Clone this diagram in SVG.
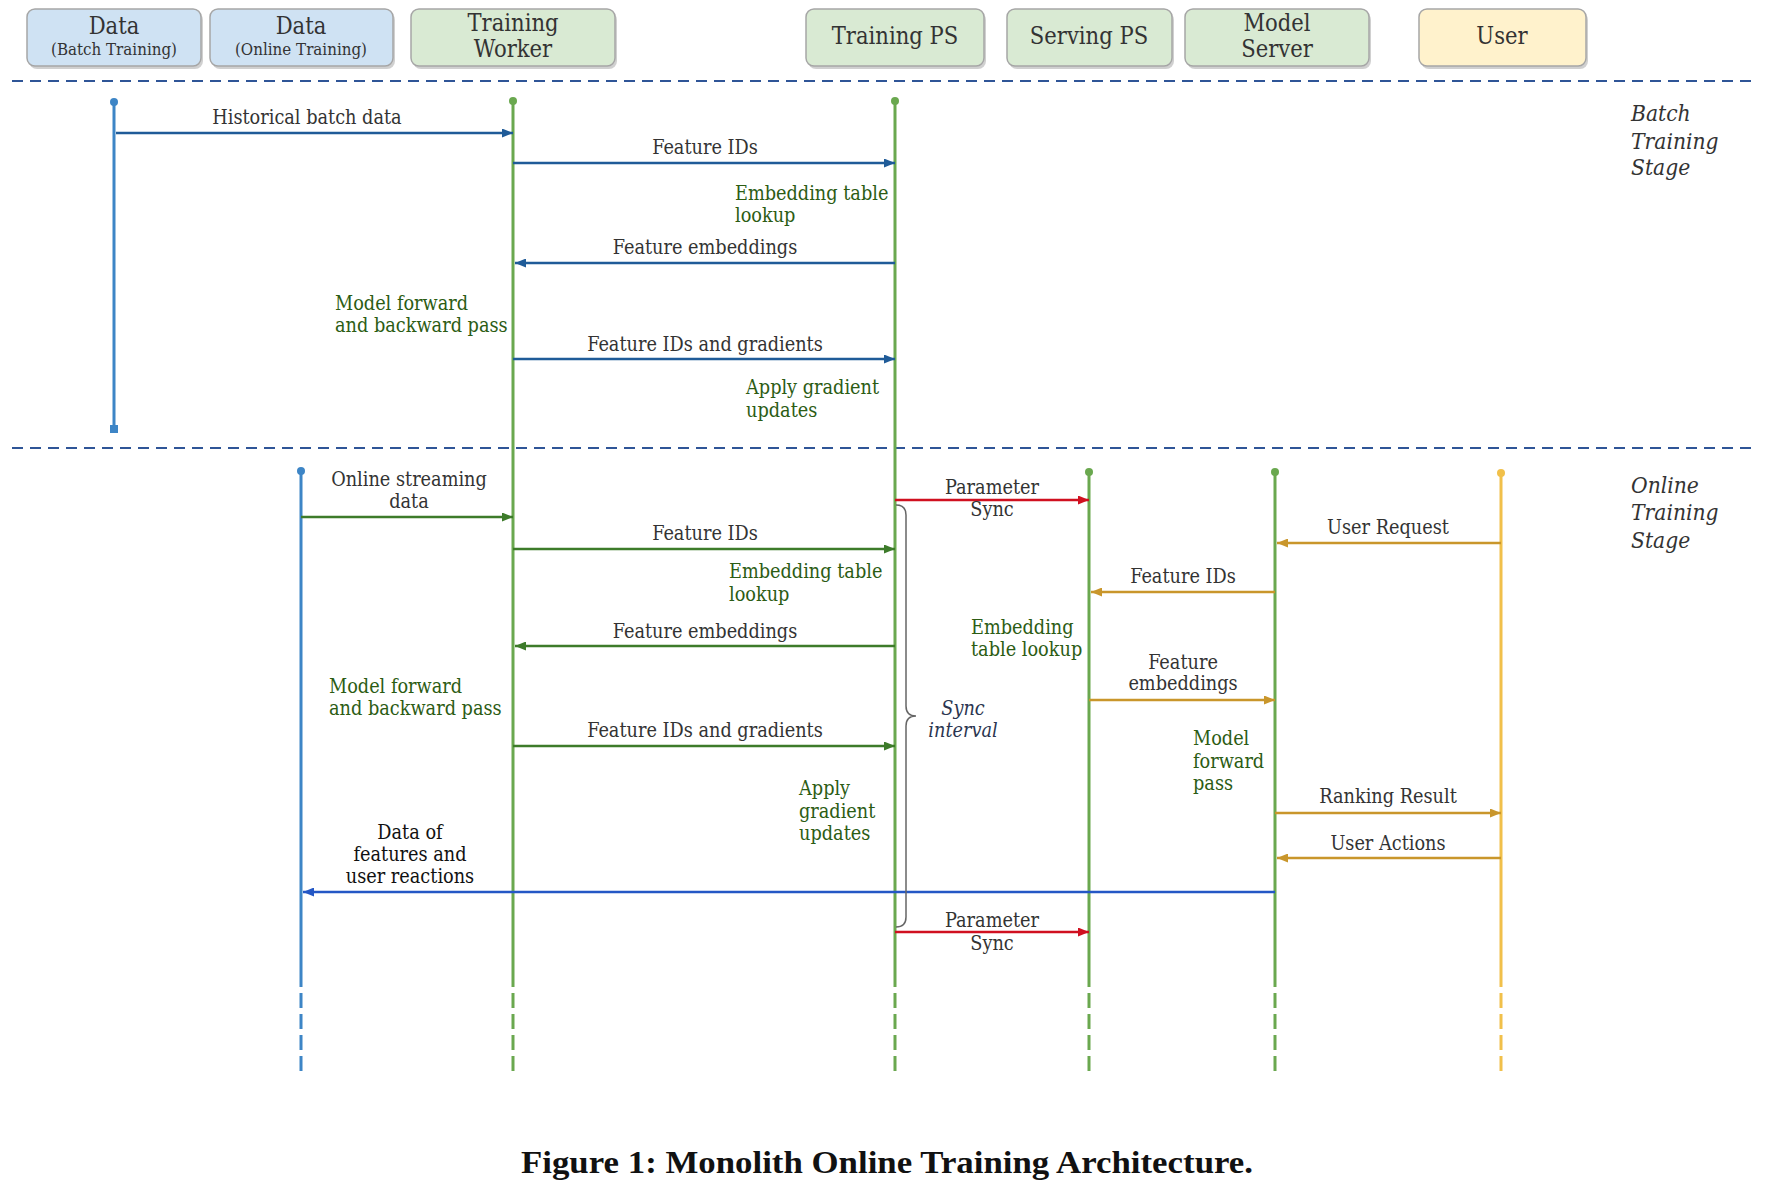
<svg xmlns="http://www.w3.org/2000/svg" width="1772" height="1188" viewBox="0 0 1772 1188">
<style>
.bg{fill:#ffffff}
.box{stroke:#a6a6a6;stroke-width:1.5}
.shadow{fill:#b0b0b0;opacity:0.6}
.bBlue{fill:#cfe2f3}
.bGreen{fill:#d9ead3}
.bYellow{fill:#fff2cc}
.ht{font-family:"DejaVu Serif Condensed","DejaVu Serif",serif;font-stretch:condensed;font-size:23.5px;fill:#333;text-anchor:middle}
.hs{font-family:"DejaVu Serif Condensed","DejaVu Serif",serif;font-stretch:condensed;font-size:16.8px;fill:#333;text-anchor:middle}
.t{font-family:"DejaVu Serif Condensed","DejaVu Serif",serif;font-stretch:condensed;font-size:19.7px;fill:#333}
.m{text-anchor:middle}
.g{fill:#2c5c14}
.k{fill:#111}
.it{font-style:italic}
.stage{font-family:"DejaVu Serif Condensed","DejaVu Serif",serif;font-stretch:condensed;font-style:italic;font-size:22.6px;fill:#333}
.sep{stroke:#2f5597;stroke-width:2;stroke-dasharray:11 7;fill:none}
.life{stroke-width:3;fill:none}
.lb{stroke:#3d85c6}
.lg{stroke:#6aa84f}
.ly{stroke:#f1c04a}
.dash{stroke-dasharray:15 6}
.a{stroke-width:2.5;fill:none}
.aBlue{stroke:#1f5b98;marker-end:url(#mBlue)}
.aGreen{stroke:#3d7b2a;marker-end:url(#mGreen)}
.aGold{stroke:#c9962b;marker-end:url(#mGold)}
.aRed{stroke:#d01020;marker-end:url(#mRed)}
.aRoyal{stroke:#2457c5;marker-end:url(#mRoyal)}
.cap{font-family:"Liberation Serif",serif;font-weight:bold;font-size:31px;fill:#111;text-anchor:middle}
</style>
<defs>
<marker id="mBlue" markerUnits="userSpaceOnUse" markerWidth="11" markerHeight="9" refX="11" refY="4.5" orient="auto"><path d="M0,0 L11,4.5 L0,9 z" fill="#1f5b98"/></marker>
<marker id="mGreen" markerUnits="userSpaceOnUse" markerWidth="11" markerHeight="9" refX="11" refY="4.5" orient="auto"><path d="M0,0 L11,4.5 L0,9 z" fill="#3d7b2a"/></marker>
<marker id="mGold" markerUnits="userSpaceOnUse" markerWidth="11" markerHeight="9" refX="11" refY="4.5" orient="auto"><path d="M0,0 L11,4.5 L0,9 z" fill="#c9962b"/></marker>
<marker id="mRed" markerUnits="userSpaceOnUse" markerWidth="11" markerHeight="9" refX="11" refY="4.5" orient="auto"><path d="M0,0 L11,4.5 L0,9 z" fill="#d01020"/></marker>
<marker id="mRoyal" markerUnits="userSpaceOnUse" markerWidth="11" markerHeight="9" refX="11" refY="4.5" orient="auto"><path d="M0,0 L11,4.5 L0,9 z" fill="#2457c5"/></marker>
</defs>
<rect class="bg" x="0" y="0" width="1772" height="1188"/>

<!-- headers -->
<g id="data-batch">
<rect class="shadow" x="29" y="12" width="174" height="57" rx="8"/>
<rect class="box bBlue" x="27" y="9" width="174" height="57" rx="8"/>
<text class="ht" x="114" y="34">Data</text>
<text class="hs" x="114" y="55">(Batch Training)</text>
</g>
<g id="data-online">
<rect class="shadow" x="212" y="12" width="183" height="57" rx="8"/>
<rect class="box bBlue" x="210" y="9" width="183" height="57" rx="8"/>
<text class="ht" x="301" y="34">Data</text>
<text class="hs" x="301" y="55">(Online Training)</text>
</g>
<g id="training-worker">
<rect class="shadow" x="413" y="12" width="204" height="57" rx="8"/>
<rect class="box bGreen" x="411" y="9" width="204" height="57" rx="8"/>
<text class="ht" x="513" y="31">Training</text>
<text class="ht" x="513" y="57">Worker</text>
</g>
<g id="training-ps">
<rect class="shadow" x="808" y="12" width="178" height="57" rx="8"/>
<rect class="box bGreen" x="806" y="9" width="178" height="57" rx="8"/>
<text class="ht" x="895" y="44">Training PS</text>
</g>
<g id="serving-ps">
<rect class="shadow" x="1009" y="12" width="165" height="57" rx="8"/>
<rect class="box bGreen" x="1007" y="9" width="165" height="57" rx="8"/>
<text class="ht" x="1089" y="44">Serving PS</text>
</g>
<g id="model-server">
<rect class="shadow" x="1187" y="12" width="184" height="57" rx="8"/>
<rect class="box bGreen" x="1185" y="9" width="184" height="57" rx="8"/>
<text class="ht" x="1277" y="31">Model</text>
<text class="ht" x="1277" y="57">Server</text>
</g>
<g id="user">
<rect class="shadow" x="1421" y="12" width="167" height="57" rx="8"/>
<rect class="box bYellow" x="1419" y="9" width="167" height="57" rx="8"/>
<text class="ht" x="1502" y="44">User</text>
</g>

<!-- separators -->
<line class="sep" x1="12" y1="81" x2="1756" y2="81"/>
<line class="sep" x1="12" y1="448" x2="1756" y2="448"/>

<!-- stage labels -->
<text class="stage" x="1631" y="121">Batch</text>
<text class="stage" x="1631" y="149">Training</text>
<text class="stage" x="1631" y="175">Stage</text>
<text class="stage" x="1631" y="493">Online</text>
<text class="stage" x="1631" y="520">Training</text>
<text class="stage" x="1631" y="548">Stage</text>

<!-- lifelines -->
<g id="lifelines">
<line class="life lb" x1="114" y1="102" x2="114" y2="429"/>
<circle cx="114" cy="102" r="4" fill="#3d85c6"/>
<rect x="110" y="425" width="8" height="8" fill="#3d85c6"/>

<line class="life lb" x1="301" y1="471" x2="301" y2="987"/>
<line class="life lb dash" x1="301" y1="993" x2="301" y2="1071"/>
<circle cx="301" cy="471" r="4" fill="#3d85c6"/>

<line class="life lg" x1="513" y1="101" x2="513" y2="987"/>
<line class="life lg dash" x1="513" y1="993" x2="513" y2="1071"/>
<circle cx="513" cy="101" r="4" fill="#6aa84f"/>

<line class="life lg" x1="895" y1="101" x2="895" y2="987"/>
<line class="life lg dash" x1="895" y1="993" x2="895" y2="1071"/>
<circle cx="895" cy="101" r="4" fill="#6aa84f"/>

<line class="life lg" x1="1089" y1="472" x2="1089" y2="987"/>
<line class="life lg dash" x1="1089" y1="993" x2="1089" y2="1071"/>
<circle cx="1089" cy="472" r="4" fill="#6aa84f"/>

<line class="life lg" x1="1275" y1="472" x2="1275" y2="987"/>
<line class="life lg dash" x1="1275" y1="993" x2="1275" y2="1071"/>
<circle cx="1275" cy="472" r="4" fill="#6aa84f"/>

<line class="life ly" x1="1501" y1="473" x2="1501" y2="987"/>
<line class="life ly dash" x1="1501" y1="993" x2="1501" y2="1071"/>
<circle cx="1501" cy="473" r="4" fill="#f1c04a"/>
</g>

<!-- connectors -->
<g id="connectors">
<line class="a aBlue" x1="116" y1="133" x2="513" y2="133"/>
<line class="a aBlue" x1="513" y1="163" x2="895" y2="163"/>
<line class="a aBlue" x1="895" y1="263" x2="515" y2="263"/>
<line class="a aBlue" x1="513" y1="359" x2="895" y2="359"/>

<line class="a aGreen" x1="301" y1="517" x2="513" y2="517"/>
<line class="a aGreen" x1="513" y1="549" x2="895" y2="549"/>
<line class="a aGreen" x1="895" y1="646" x2="515" y2="646"/>
<line class="a aGreen" x1="513" y1="746" x2="895" y2="746"/>

<line class="a aRed" x1="895" y1="500" x2="1089" y2="500"/>
<line class="a aRed" x1="895" y1="932" x2="1089" y2="932"/>

<line class="a aGold" x1="1501" y1="543" x2="1277" y2="543"/>
<line class="a aGold" x1="1275" y1="592" x2="1091" y2="592"/>
<line class="a aGold" x1="1089" y1="700" x2="1275" y2="700"/>
<line class="a aGold" x1="1275" y1="813" x2="1501" y2="813"/>
<line class="a aGold" x1="1501" y1="858" x2="1277" y2="858"/>

<line class="a aRoyal" x1="1275" y1="892" x2="303" y2="892"/>

<path d="M896,505 Q906,505 906,515 L906,706 Q906,716 916,716 Q906,716 906,726 L906,917 Q906,927 896,927" stroke="#666" stroke-width="1.5" fill="none"/>
</g>

<!-- labels -->
<g id="labels">
<text class="t m" x="307" y="124">Historical batch data</text>
<text class="t m" x="705" y="154">Feature IDs</text>
<text class="t g" x="735" y="200">Embedding table</text>
<text class="t g" x="735" y="222">lookup</text>
<text class="t m" x="705" y="254">Feature embeddings</text>
<text class="t g" x="335" y="310">Model forward</text>
<text class="t g" x="335" y="332">and backward pass</text>
<text class="t m" x="705" y="351">Feature IDs and gradients</text>
<text class="t g" x="746" y="394">Apply gradient</text>
<text class="t g" x="746" y="417">updates</text>

<text class="t m" x="409" y="486">Online streaming</text>
<text class="t m" x="409" y="508">data</text>
<text class="t m" x="705" y="540">Feature IDs</text>
<text class="t g" x="729" y="578">Embedding table</text>
<text class="t g" x="729" y="601">lookup</text>
<text class="t m" x="705" y="638">Feature embeddings</text>
<text class="t g" x="329" y="693">Model forward</text>
<text class="t g" x="329" y="715">and backward pass</text>
<text class="t m" x="705" y="737">Feature IDs and gradients</text>
<text class="t g" x="799" y="795">Apply</text>
<text class="t g" x="799" y="818">gradient</text>
<text class="t g" x="799" y="840">updates</text>
<text class="t m k" x="410" y="839">Data of</text>
<text class="t m k" x="410" y="861">features and</text>
<text class="t m k" x="410" y="883">user reactions</text>

<text class="t m" x="992" y="494">Parameter</text>
<text class="t m" x="992" y="516">Sync</text>
<text class="t m it" x="963" y="715" style="fill:#2b3550">Sync</text>
<text class="t m it" x="963" y="737" style="fill:#2b3550">interval</text>
<text class="t m" x="1388" y="534">User Request</text>
<text class="t m" x="1183" y="583">Feature IDs</text>
<text class="t g" x="971" y="634">Embedding</text>
<text class="t g" x="971" y="656">table lookup</text>
<text class="t m" x="1183" y="669">Feature</text>
<text class="t m" x="1183" y="690">embeddings</text>
<text class="t g" x="1193" y="745">Model</text>
<text class="t g" x="1193" y="768">forward</text>
<text class="t g" x="1193" y="790">pass</text>
<text class="t m" x="1388" y="803">Ranking Result</text>
<text class="t m" x="1388" y="850">User Actions</text>
<text class="t m" x="992" y="927">Parameter</text>
<text class="t m" x="992" y="950">Sync</text>
</g>

<text class="cap" x="887" y="1173" textLength="732" lengthAdjust="spacingAndGlyphs">Figure 1: Monolith Online Training Architecture.</text>
</svg>
